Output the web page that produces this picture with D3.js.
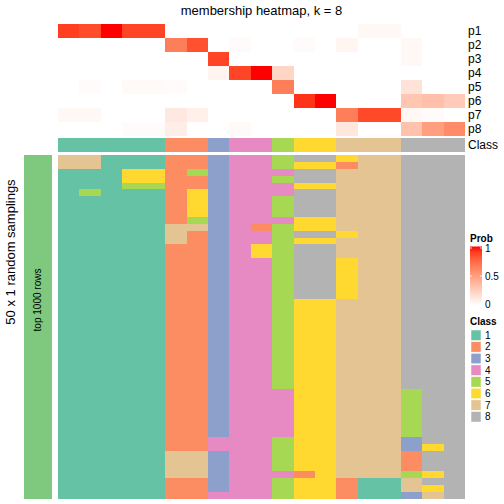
<!DOCTYPE html>
<html><head><meta charset="utf-8">
<script src="https://cdn.jsdelivr.net/npm/d3@7"></script>
<style>body{margin:0;background:#fff}svg{display:block}text{font-family:"Liberation Sans",Arial,sans-serif}</style>
</head><body>
<svg id="c" width="504" height="504"></svg>
<script>
// ---------- data ----------
const title = "membership heatmap, k = 8";
const probRows = ["p1","p2","p3","p4","p5","p6","p7","p8"];
const classes = ["1","2","3","4","5","6","7","8"];
const classColors = ["#66C2A5","#FC8D62","#8DA0CB","#E78AC3","#A6D854","#FFD92F","#E5C494","#B3B3B3"];
const colClass = [1,1,1,1,1,2,2,3,4,4,5,6,6,7,7,7,8,8,8];
const p1 = [0.9,0.86,1.0,0.88,0.88,0,0,0,0,0,0,0,0,0,0.04,0.04,0,0,0];
const p2 = [0,0,0,0,0,0.66,0.84,0,0.02,0,0,0.02,0,0.05,0,0,0.04,0,0];
const p3 = [0,0,0,0,0,0,0,0.88,0,0,0,0,0,0,0,0,0.04,0,0];
const p4 = [0,0,0,0,0,0,0,0.06,0.88,1.0,0.22,0,0,0,0,0,0,0,0];
const p5 = [0,0.02,0,0.03,0.03,0.02,0,0,0,0,0.66,0,0,0,0,0,0.15,0,0];
const p6 = [0,0,0,0,0,0,0,0,0,0,0,0.93,1.0,0,0,0,0.3,0.34,0.28];
const p7 = [0.04,0.04,0,0,0,0.12,0.08,0,0,0,0,0,0,0.66,0.87,0.87,0.04,0.02,0];
const p8 = [0,0,0,0.02,0.02,0.09,0,0,0.03,0,0,0,0,0.13,0,0,0.32,0.5,0.6];
// 50 random samplings (rows) x 19 columns, class of each cell
const samplings = [
"7711122344588677888","7711122344566277888","1116625344488777888","1116622344588777888",
"1115522344466777888","1511126344488777888","1111126344588777888","1111126344588777888",
"1111126344588777888","1111125344466777888","1111177342566777888","1111172344588677888",
"1111172344566777888","1111122346588777888","1111122346588777888","1111122344588677888",
"1111122344588677888","1111122344588677888","1111122344588677888","1111122344588677888",
"1111122344588677888","1111122344566777888","1111122344566777888","1111122344566777888",
"1111122344566777888","1111122344566777888","1111122344566777888","1111122344566777888",
"1111122344566777888","1111122344566777888","1111122344566777888","1111122344566777888",
"1111122344566777888","1111122344566777888","1111122344466777588","1111122344466777588",
"1111122344466777588","1111122344466777588","1111122344466777588","1111122344466777588",
"1111122344466777588","1111122444566777388","1111122444566777368","1111177344566777288",
"1111177344566777288","1111177344566777288","1111177344426777568","1111122344566211788",
"1111122344566211768","1111122444566211378"];
const probTicks = [0, 0.5, 1];
const rowTitle = "50 x 1 random samplings";
const splitTitle = "top 1000 rows";

// ---------- drawing ----------
const svg = d3.select("#c");
const probData = [p1,p2,p3,p4,p5,p6,p7,p8];
const nCol = colClass.length;
const x = d3.scaleBand().domain(d3.range(nCol)).range([58,465]);
const yP = d3.scaleBand().domain(probRows).range([24,136]);
const yS = d3.scaleBand().domain(d3.range(samplings.length)).range([155,499]);
const cls = d3.scaleOrdinal().domain(classes).range(classColors);
const prob = d3.scaleLinear().domain([0,1]).range(["#ffffff","#ff0000"]).interpolate(d3.interpolateLab);
const xr = x.range()[1];

svg.append("text").attr("x",261.5).attr("y",15).attr("text-anchor","middle")
  .attr("font-size",13).text(title);

// membership heatmap
probData.forEach((arr,i)=>{
  svg.append("g").attr("shape-rendering","crispEdges").selectAll("rect").data(arr).join("rect")
    .attr("x",(d,j)=>x(j)).attr("y",yP(probRows[i]))
    .attr("width",(d,j)=>Math.min(x.bandwidth()+1, xr-x(j))).attr("height",yP.bandwidth()+(i<probRows.length-1?1:0))
    .attr("fill",d=>prob(d));
});
// class annotation
svg.append("g").attr("shape-rendering","crispEdges").selectAll("rect").data(colClass).join("rect")
  .attr("x",(d,j)=>x(j)).attr("y",138).attr("width",(d,j)=>Math.min(x.bandwidth()+1, xr-x(j))).attr("height",14)
  .attr("fill",d=>cls(String(d)));
// row labels
svg.append("g").selectAll("text").data(probRows).join("text")
  .attr("x",468).attr("y",d=>yP(d)+yP.bandwidth()/2).attr("dy","0.36em")
  .attr("font-size",12).text(d=>d);
svg.append("text").attr("x",468).attr("y",145).attr("dy","0.36em").attr("font-size",12).text("Class");

// samplings heatmap
samplings.forEach((row,i)=>{
  svg.append("g").attr("shape-rendering","crispEdges").selectAll("rect").data(row.split("")).join("rect")
    .attr("x",(d,j)=>x(j)).attr("y",yS(i))
    .attr("width",(d,j)=>Math.min(x.bandwidth()+1, xr-x(j)))
    .attr("height",yS.bandwidth()+(i<samplings.length-1?1:0))
    .attr("fill",d=>cls(d));
});

// left annotation bar
svg.append("rect").attr("x",24).attr("y",155).attr("width",28).attr("height",344).attr("fill","#7FC97F");
svg.append("text").attr("transform","translate(41,300) rotate(-90)").attr("text-anchor","middle")
  .attr("font-size",10).text(splitTitle);
svg.append("text").attr("transform","translate(15,252) rotate(-90)").attr("text-anchor","middle")
  .attr("font-size",13).text(rowTitle);

// Prob legend
const lg = svg.append("g");
lg.append("text").attr("x",470).attr("y",242).attr("font-size",10).attr("font-weight","bold").text("Prob");
const grad = svg.append("defs").append("linearGradient").attr("id","pg").attr("x1",0).attr("y1",1).attr("x2",0).attr("y2",0);
d3.range(0,1.01,0.1).forEach(t=>grad.append("stop").attr("offset",t).attr("stop-color",prob(t)));
const yL = d3.scaleLinear().domain([0,1]).range([304,248]);
lg.append("rect").attr("x",470).attr("y",yL(1)-1.5).attr("width",12).attr("height",yL(0)-yL(1)+3).attr("fill","url(#pg)");
lg.append("g").selectAll("line").data(probTicks).join("line")
  .attr("x1",470).attr("x2",472).attr("y1",d=>yL(d)).attr("y2",d=>yL(d)).attr("stroke","#fff").attr("stroke-width",0.8);
lg.append("g").selectAll("line").data(probTicks).join("line")
  .attr("x1",480).attr("x2",482).attr("y1",d=>yL(d)).attr("y2",d=>yL(d)).attr("stroke","#fff").attr("stroke-width",0.8);
lg.append("g").selectAll("text").data(probTicks).join("text")
  .attr("x",485).attr("y",d=>yL(d)).attr("dy","0.36em").attr("font-size",10).text(d=>d);

// Class legend
const cg = svg.append("g");
cg.append("text").attr("x",470).attr("y",325).attr("font-size",10).attr("font-weight","bold").text("Class");
const yC = d3.scaleBand().domain(classes).range([330,422]).paddingInner(0.1);
cg.append("g").selectAll("rect").data(classes).join("rect")
  .attr("x",471).attr("y",d=>yC(d)).attr("width",10).attr("height",yC.bandwidth())
  .attr("fill",d=>cls(d)).attr("stroke","#fff").attr("stroke-width",0.5);
cg.append("g").selectAll("text").data(classes).join("text")
  .attr("x",485).attr("y",d=>yC(d)+yC.bandwidth()/2).attr("dy","0.36em").attr("font-size",10).text(d=>d);
</script>
</body></html>
